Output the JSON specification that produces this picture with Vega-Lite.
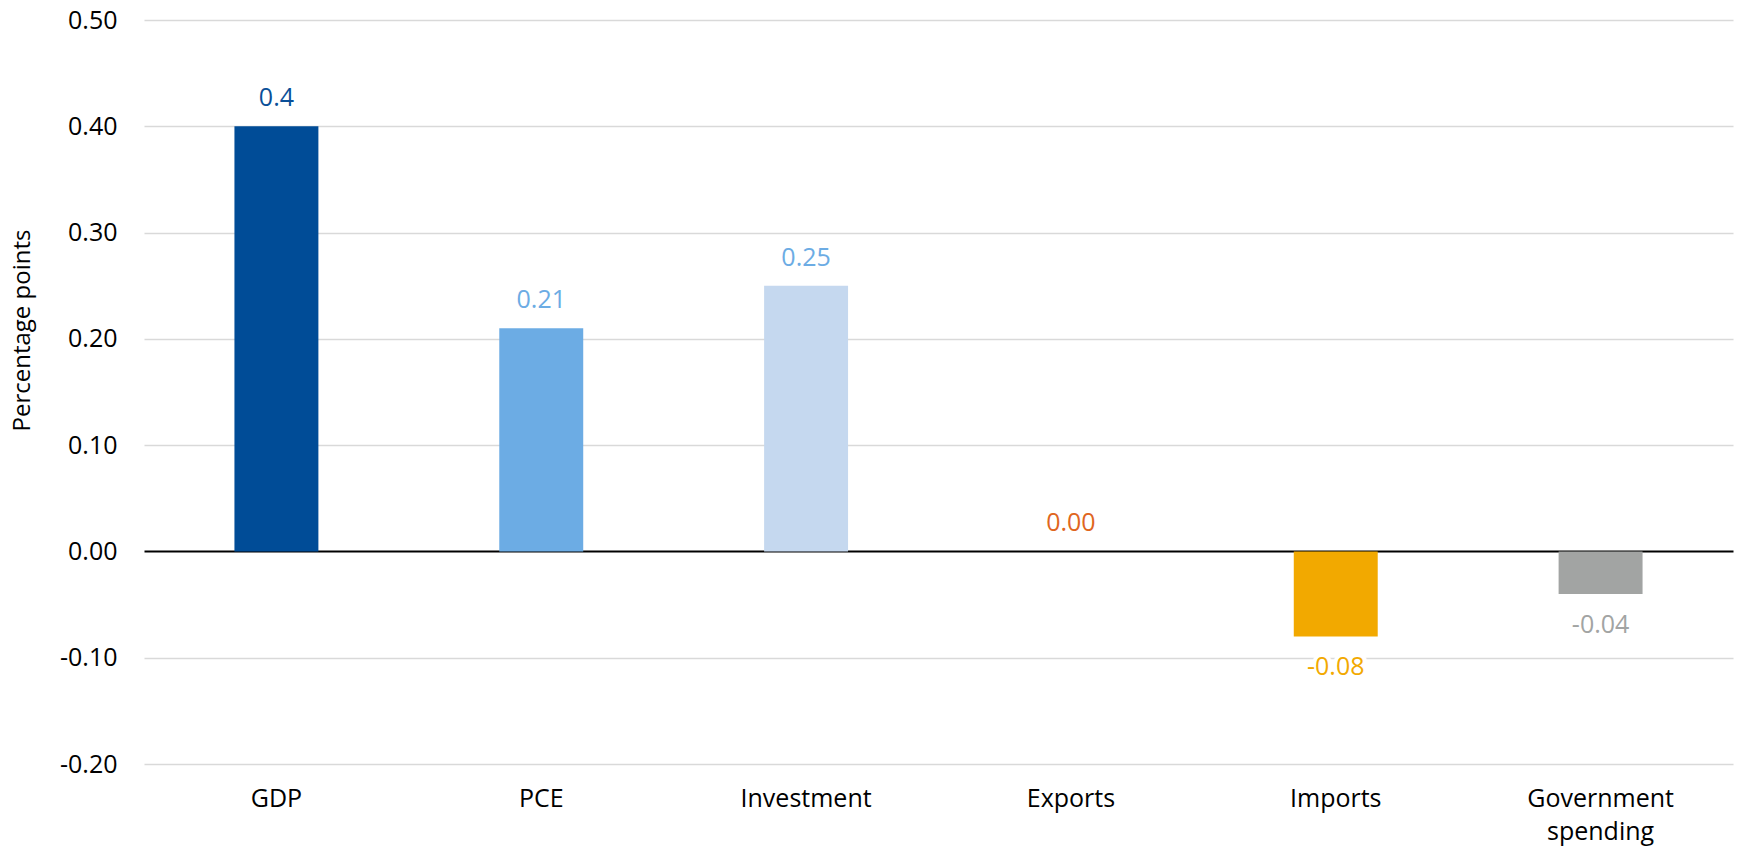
{
  "$schema": "https://vega.github.io/schema/vega-lite/v6.json",
  "width": 1589,
  "height": 744,
  "autosize": {"type": "none"},
  "padding": {"left": 144, "top": 20, "right": 5, "bottom": 89},
  "background": "white",
  "config": {"view": {"stroke": null}, "font": "Open Sans"},
  "data": {
    "values": [
      {"category": "GDP", "value": 0.4, "label": "0.4"},
      {"category": "PCE", "value": 0.21, "label": "0.21"},
      {"category": "Investment", "value": 0.25, "label": "0.25"},
      {"category": "Exports", "value": 0.0, "label": "0.00"},
      {"category": "Imports", "value": -0.08, "label": "-0.08"},
      {"category": "Government spending", "value": -0.04, "label": "-0.04"}
    ]
  },
  "encoding": {
    "x": {
      "field": "category",
      "type": "nominal",
      "sort": null,
      "scale": {"paddingInner": 0.683, "paddingOuter": 0.3415},
      "axis": {
        "title": null,
        "domain": false,
        "ticks": false,
        "labelFontSize": 25,
        "labelColor": "#000000",
        "labelPadding": 22,
        "labelAngle": 0,
        "labelBaseline": "top",
        "labelLineHeight": 33,
        "labelExpr": "datum.label == 'Government spending' ? ['Government','spending'] : datum.label"
      }
    },
    "y": {
      "field": "value",
      "type": "quantitative",
      "scale": {"domain": [-0.2, 0.5], "nice": false},
      "axis": {
        "title": "Percentage points",
        "values": [-0.2, -0.1, 0, 0.1, 0.2, 0.3, 0.4, 0.5],
        "labelExpr": "replace(format(datum.value, '.2f'), '\u2212', '-')",
        "grid": true,
        "gridColor": {"condition": {"test": "datum.value === 0", "value": "#000000"}, "value": "#d9d9d9"},
        "gridWidth": {"condition": {"test": "datum.value === 0", "value": 2}, "value": 1.5},
        "domain": false,
        "ticks": false,
        "labelPadding": 27,
        "labelFontSize": 25,
        "labelColor": "#000000",
        "titleFontSize": 24,
        "titleFontWeight": "normal",
        "titleColor": "#000000",
        "titleAngle": 270,
        "titleX": -122,
        "titleY": 310,
        "titleBaseline": "middle",
        "titleAlign": "center"
      }
    }
  },
  "layer": [
    {
      "mark": {"type": "bar"},
      "encoding": {
        "color": {
          "field": "category",
          "type": "nominal",
          "scale": {
            "domain": ["GDP", "PCE", "Investment", "Exports", "Imports", "Government spending"],
            "range": ["#004C97", "#6CACE4", "#C5D8EF", "#E0661E", "#F2A900", "#A2A4A3"]
          },
          "legend": null
        }
      }
    },
    {
      "transform": [{"filter": "datum.value >= 0"}],
      "mark": {"type": "text", "baseline": "alphabetic", "dy": -20, "fontSize": 25},
      "encoding": {
        "text": {"field": "label"},
        "color": {
          "field": "category",
          "type": "nominal",
          "scale": {
            "domain": ["GDP", "PCE", "Investment", "Exports", "Imports", "Government spending"],
            "range": ["#0A4F98", "#6CACE4", "#6CACE4", "#E0661E", "#F2A900", "#A2A4A3"]
          },
          "legend": null
        }
      }
    },
    {
      "transform": [{"filter": "datum.value < 0"}],
      "mark": {"type": "text", "baseline": "alphabetic", "dy": 39, "fontSize": 25, "fill": "white", "stroke": "white", "strokeWidth": 8, "strokeJoin": "round"},
      "encoding": {"text": {"field": "label"}}
    },
    {
      "transform": [{"filter": "datum.value < 0"}],
      "mark": {"type": "text", "baseline": "alphabetic", "dy": 39, "fontSize": 25},
      "encoding": {
        "text": {"field": "label"},
        "color": {
          "field": "category",
          "type": "nominal",
          "scale": {
            "domain": ["GDP", "PCE", "Investment", "Exports", "Imports", "Government spending"],
            "range": ["#0A4F98", "#6CACE4", "#6CACE4", "#E0661E", "#F2A900", "#A2A4A3"]
          },
          "legend": null
        }
      }
    }
  ],
  "resolve": {"scale": {"color": "independent"}}
}
